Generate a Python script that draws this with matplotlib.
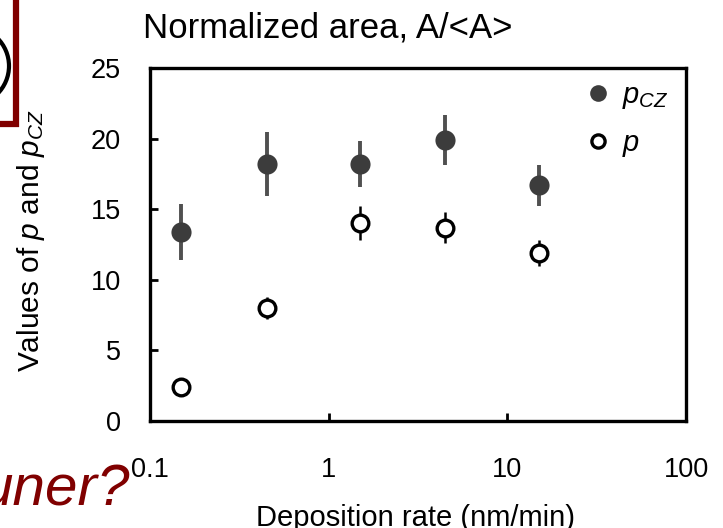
import matplotlib
matplotlib.use("Agg")
import matplotlib.pyplot as plt
from matplotlib.lines import Line2D
from matplotlib.patches import Ellipse

plt.rcParams['font.family'] = ['Liberation Sans', 'DejaVu Sans']
plt.rcParams['mathtext.fontset'] = 'custom'
plt.rcParams['mathtext.it'] = 'Liberation Sans:italic'
plt.rcParams['mathtext.rm'] = 'Liberation Sans'

# Deposition rate (nm/min)
rate = [0.15, 0.45, 1.5, 4.5, 15]
# p_CZ values and their error half-widths
p_cz = [13.4, 18.2, 18.2, 19.9, 16.7]
p_cz_err = [2.0, 2.3, 1.65, 1.75, 1.45]
# p values and their error half-widths
p_val = [2.4, 8.0, 14.0, 13.7, 11.9]
p_err = [0.0, 0.8, 1.2, 1.1, 0.95]

xticks = [0.1, 1, 10, 100]
xtick_labels = ['0.1', '1', '10', '100']
yticks = [0, 5, 10, 15, 20, 25]

W, H = 723, 528
fig = plt.figure(figsize=(W / 100, H / 100), dpi=100)
fig.patch.set_facecolor('white')

def fx(x):
    return x / W

def fy(y):
    return 1 - y / H

ax = fig.add_axes([fx(150), fy(421), fx(686) - fx(150), fy(68) - fy(421)])
ax.set_xscale('log')
ax.set_xlim(0.1, 100)
ax.set_ylim(0, 25)

dark = '#3c3c3c'
ax.errorbar(rate, p_cz, yerr=p_cz_err, fmt='o', color=dark, ecolor='#505050',
            elinewidth=2.8, capsize=0, markersize=14.5, markeredgewidth=0, zorder=3)
ax.errorbar(rate, p_val, yerr=p_err, fmt='o', color='black', ecolor='black',
            elinewidth=1.8, capsize=0, markersize=12, markerfacecolor='white',
            markeredgecolor='black', markeredgewidth=2.4, zorder=4)

ax.set_xticks(xticks)
ax.set_xticklabels(xtick_labels)
ax.xaxis.set_minor_locator(matplotlib.ticker.NullLocator())
ax.set_yticks(yticks)
ax.tick_params(axis='both', direction='in', length=6, width=2.0, labelsize=19.5, colors='black')
ax.tick_params(axis='x', pad=26)
ax.tick_params(axis='y', pad=21)
for s in ax.spines.values():
    s.set_linewidth(2.4)

fig.text(fx(416), fy(526), 'Deposition rate (nm/min)', fontsize=21, ha='center', va='baseline')
fig.text(fx(31), fy(241), r'Values of $p$ and $p_{CZ}$', fontsize=21.5, rotation=90,
         ha='center', va='center')

fig.text(fx(143), fy(38), 'Normalized area, A/<A>', fontsize=25, ha='left', va='baseline')

handles = [
    Line2D([], [], marker='o', linestyle='none', color=dark, markersize=12, markeredgewidth=0),
    Line2D([], [], marker='o', linestyle='none', markerfacecolor='white',
           markeredgecolor='black', markeredgewidth=2.4, markersize=9.5),
]
ax.legend(handles, [r'$p_{CZ}$', r'$p$'], loc='upper left',
          bbox_to_anchor=((fx(569) - fx(150)) / (fx(686) - fx(150)), 0.995),
          frameon=False, fontsize=21, handletextpad=0.2, labelspacing=0.6,
          handlelength=1.2, borderaxespad=0)

# slide decorations
red = '#800000'
fig.add_artist(Line2D([fx(16), fx(16)], [fy(0), fy(127)], color=red, linewidth=4.5,
                      solid_capstyle='butt', transform=fig.transFigure))
fig.add_artist(Line2D([fx(0), fx(18.5)], [fy(124), fy(124)], color=red, linewidth=4.5,
                      solid_capstyle='butt', transform=fig.transFigure))
fig.add_artist(Ellipse((fx(-32), fy(66)), width=fx(82), height=80 / H, fill=False,
                       edgecolor='black', linewidth=3, transform=fig.transFigure))
fig.text(fx(130), fy(505), 'uner?', fontsize=42, style='italic', color=red,
         ha='right', va='baseline')

fig.savefig('out.png', dpi=100)
